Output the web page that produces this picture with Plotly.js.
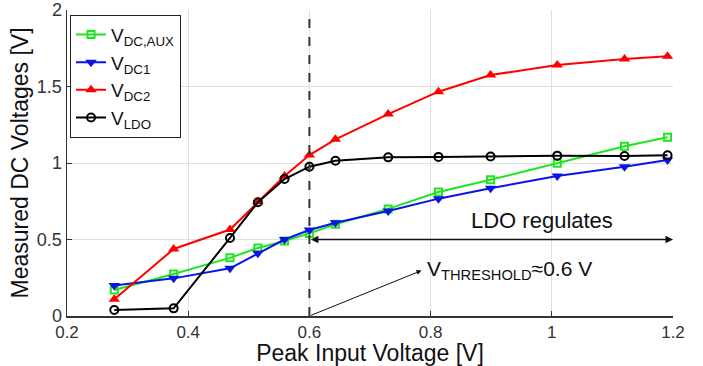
<!DOCTYPE html>
<html>
<head>
<meta charset="utf-8">
<script src="https://cdn.plot.ly/plotly-3.0.1.min.js"></script>
<style>html,body{margin:0;padding:0;background:#fff;}#chart{width:703px;height:366px;}</style>
</head>
<body>
<div id="chart"></div>
<script>
const peakInput = [0.278, 0.376, 0.469, 0.515, 0.559, 0.600, 0.643, 0.730, 0.813, 0.899, 1.009, 1.120, 1.191];
const vDcAux = [0.17, 0.274, 0.38, 0.445, 0.49, 0.54, 0.60, 0.70, 0.81, 0.89, 0.998, 1.11, 1.168];
const vDc1 = [0.20, 0.246, 0.312, 0.41, 0.50, 0.562, 0.61, 0.686, 0.767, 0.835, 0.915, 0.976, 1.02];
const vDc2 = [0.109, 0.438, 0.565, 0.747, 0.915, 1.052, 1.155, 1.32, 1.466, 1.575, 1.64, 1.68, 1.697];
const vLdo = [0.039, 0.05, 0.51, 0.743, 0.895, 0.976, 1.015, 1.037, 1.04, 1.043, 1.048, 1.046, 1.05];
const seriesNames = ['V<sub>DC,AUX</sub>', 'V<sub>DC1</sub>', 'V<sub>DC2</sub>', 'V<sub>LDO</sub>'];
const xTicks = [0.2, 0.4, 0.6, 0.8, 1, 1.2];
const xTickText = ['0.2', '0.4', '0.6', '0.8', '1', '1.2'];
const yTicks = [0, 0.5, 1, 1.5, 2];
const yTickText = ['0', '0.5', '1', '1.5', '2'];
const threshold = 0.6;

const font = 'Liberation Sans, Arial, sans-serif';
const traces = [
  {x: peakInput, y: vDcAux, name: seriesNames[0], mode: 'lines+markers',
   line: {color: '#1ee61e', width: 2}, marker: {symbol: 'square-open', size: 7, color: '#1ee61e', line: {width: 2}}},
  {x: peakInput, y: vDc1, name: seriesNames[1], mode: 'lines+markers',
   line: {color: '#0a14e6', width: 2}, marker: {symbol: 'triangle-down', size: 10, color: '#0a14e6'}},
  {x: peakInput, y: vDc2, name: seriesNames[2], mode: 'lines+markers',
   line: {color: '#ff0000', width: 2}, marker: {symbol: 'triangle-up', size: 10, color: '#ff0000'}},
  {x: peakInput, y: vLdo, name: seriesNames[3], mode: 'lines+markers',
   line: {color: '#000000', width: 2}, marker: {symbol: 'circle-open', size: 8, color: '#000000', line: {width: 2}}}
];

const layout = {
  width: 703, height: 366,
  margin: {l: 67, r: 30, t: 10, b: 50},
  paper_bgcolor: '#fff', plot_bgcolor: '#fff',
  font: {family: font, color: '#222'},
  showlegend: true,
  legend: {x: 0.005, y: 0.985, xanchor: 'left', yanchor: 'top', bgcolor: '#fff',
           bordercolor: '#222', borderwidth: 1, font: {size: 19, family: font, color: '#111'},
           tracegroupgap: 0, itemwidth: 30},
  xaxis: {range: [0.2, 1.2], tickvals: xTicks, ticktext: xTickText, showgrid: true, gridcolor: '#e0e0e0',
          zeroline: false, showline: true, linecolor: '#333', linewidth: 1.5, ticks: 'inside', ticklen: 5,
          tickcolor: '#333', tickfont: {size: 17, color: '#333'},
          title: {text: 'Peak Input Voltage [V]', font: {size: 23, color: '#111'}, standoff: 1}},
  yaxis: {range: [0, 2], tickvals: yTicks, ticktext: yTickText, showgrid: true, gridcolor: '#e0e0e0',
          zeroline: false, showline: true, linecolor: '#333', linewidth: 1.5, ticks: 'inside', ticklen: 5,
          tickcolor: '#333', tickfont: {size: 18, color: '#333'},
          title: {text: 'Measured DC Voltages [V]', font: {size: 23, color: '#111'}, standoff: 2}},
  shapes: [
    {type: 'line', xref: 'x', yref: 'y', x0: threshold, x1: threshold, y0: 0, y1: 2,
     line: {color: '#333', width: 2, dash: 'dash'}}
  ],
  annotations: [
    {xref: 'x', yref: 'y', axref: 'x', ayref: 'y', x: 1.2, y: 0.5, ax: threshold, ay: 0.5,
     text: '', showarrow: true, arrowhead: 2, startarrowhead: 2, arrowside: 'end+start', arrowsize: 1, arrowwidth: 1.5, arrowcolor: '#111'},
    {xref: 'x', yref: 'y', x: 0.984, y: 0.625, text: 'LDO regulates', showarrow: false,
     font: {size: 22, color: '#111', family: font}},
    {xref: 'x', yref: 'y', axref: 'x', ayref: 'y', x: 0.785, y: 0.297, ax: threshold, ay: 0,
     text: '', showarrow: true, arrowhead: 2, arrowsize: 1, arrowwidth: 1, arrowcolor: '#111'},
    {xref: 'x', yref: 'y', x: 0.79, y: 0.30, xanchor: 'left', text: 'V<sub>THRESHOLD</sub>≈0.6 V', showarrow: false,
     font: {size: 21, color: '#111', family: font}}
  ]
};

Plotly.newPlot('chart', traces, layout, {displayModeBar: false, staticPlot: true});
</script>
</body>
</html>
